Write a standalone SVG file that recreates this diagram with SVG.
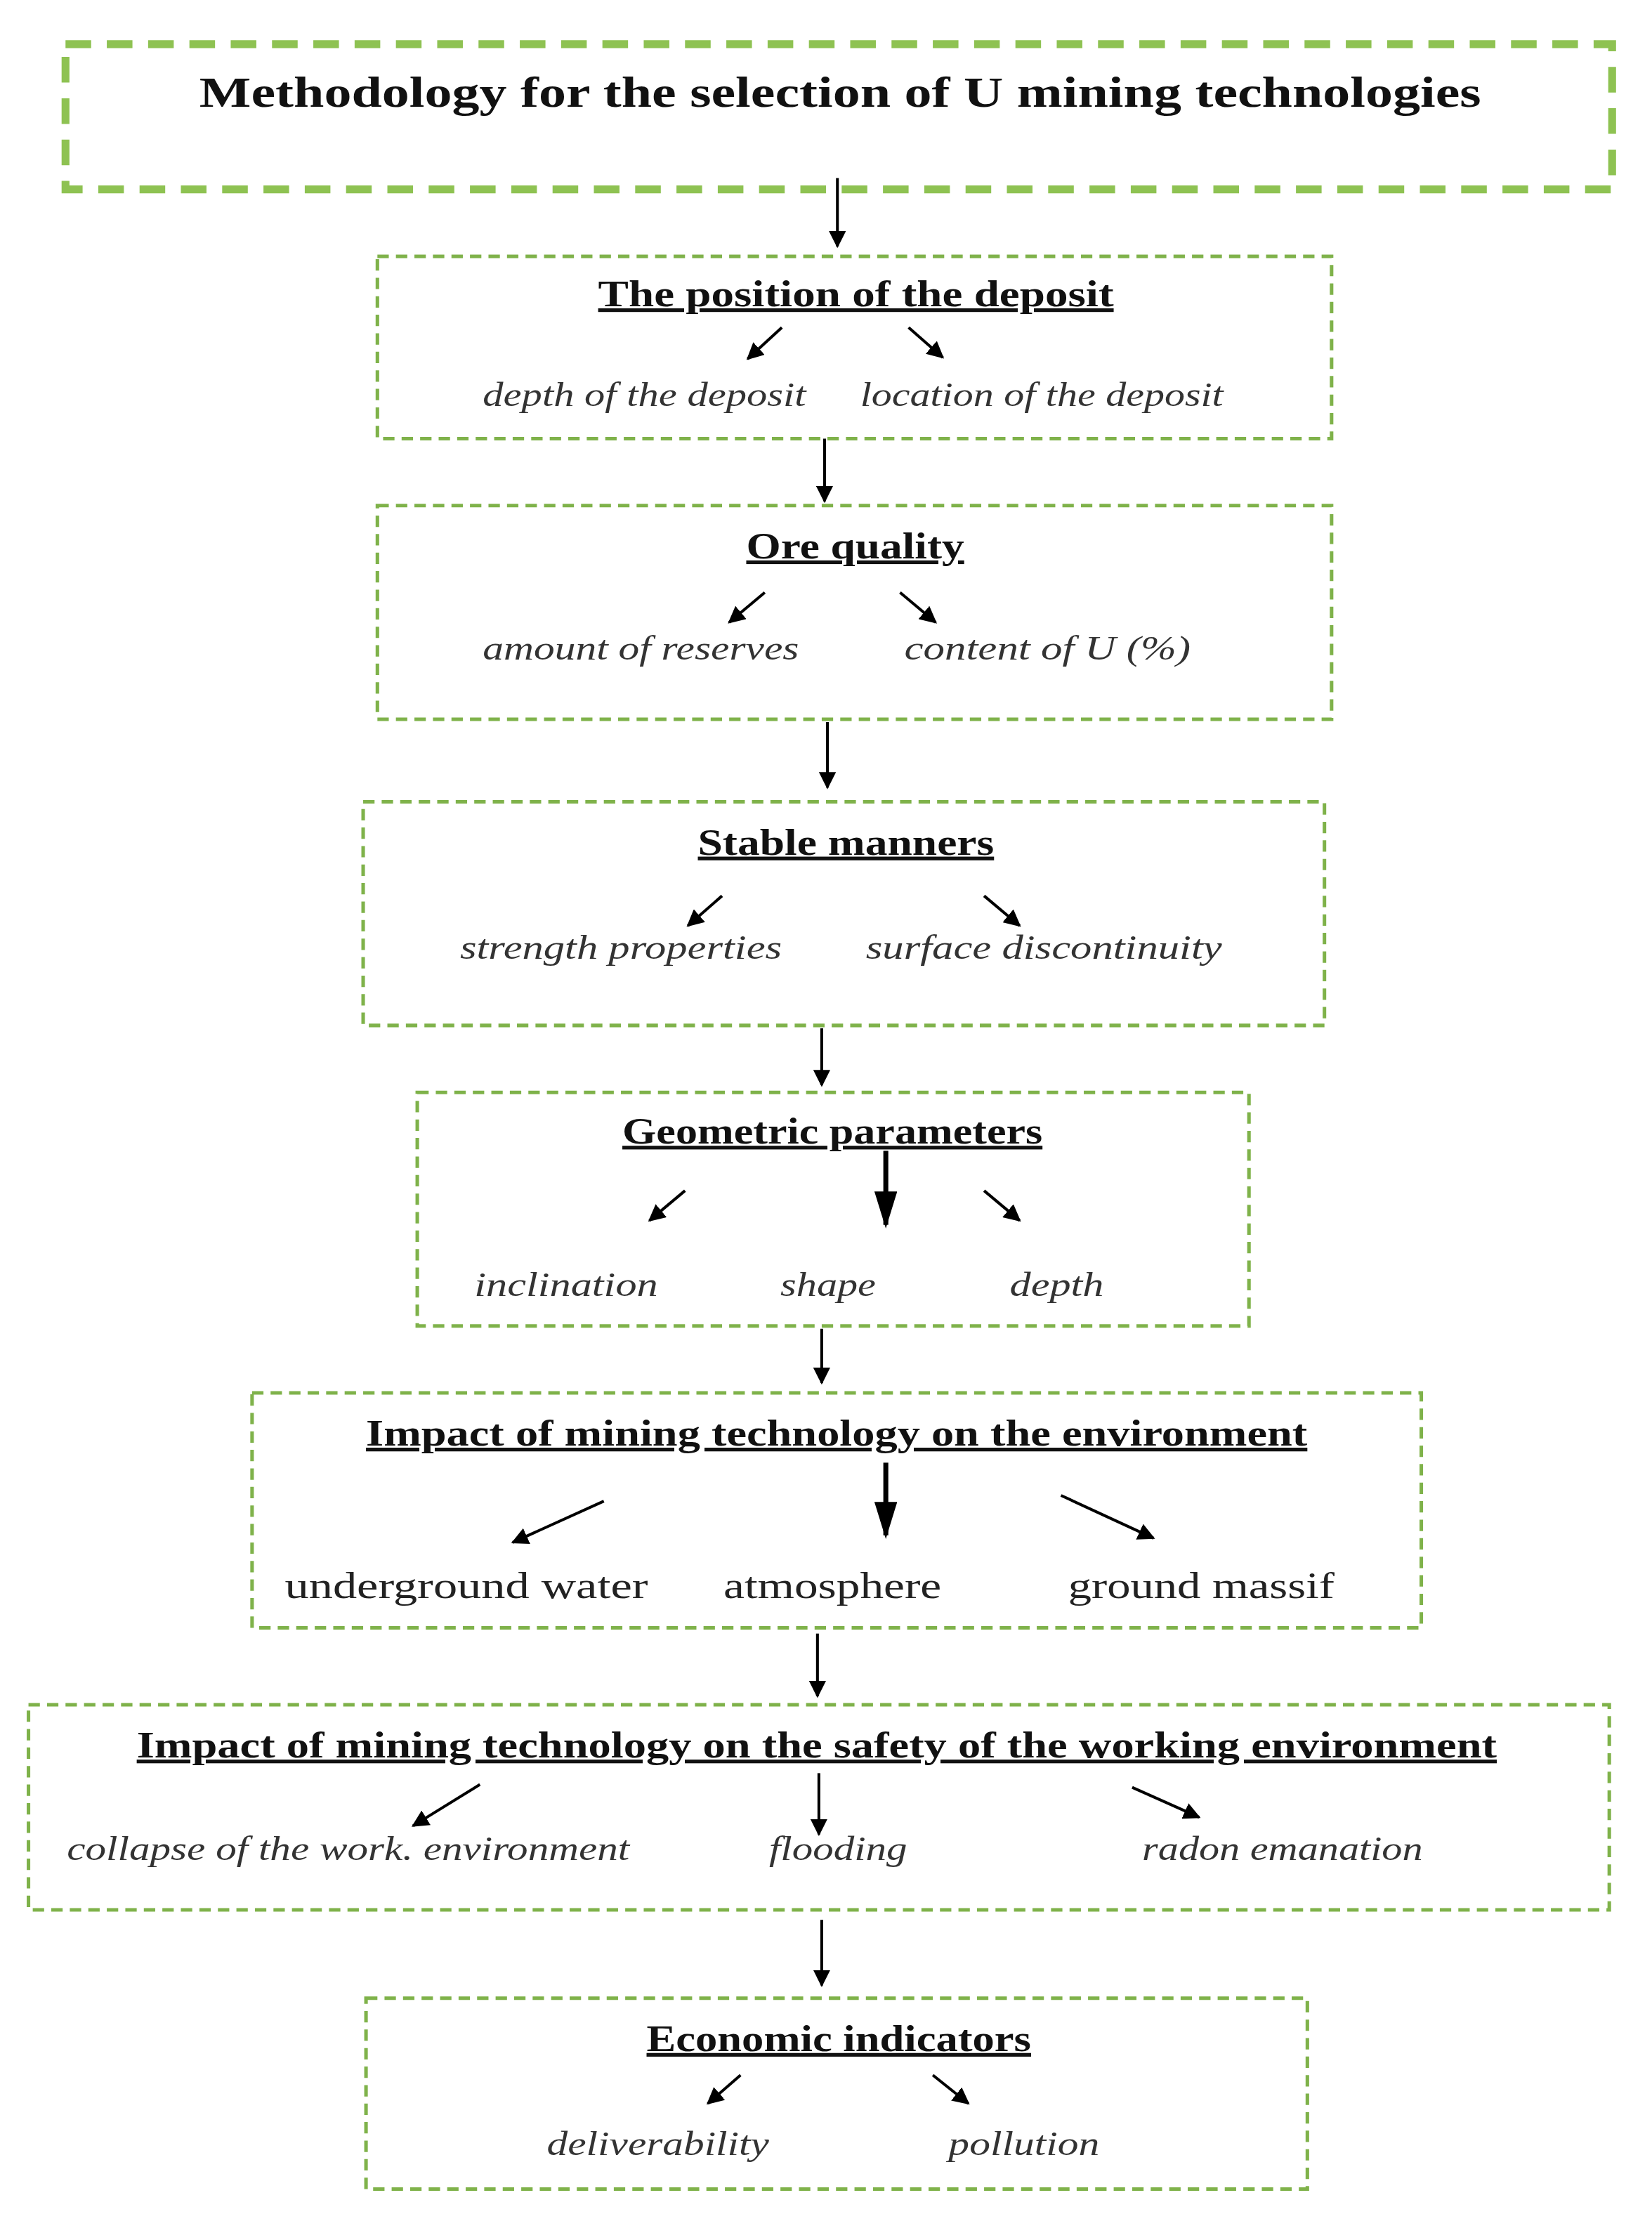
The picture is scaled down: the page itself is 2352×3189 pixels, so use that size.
<svg xmlns="http://www.w3.org/2000/svg" width="2352" height="3189" viewBox="0 0 2352 3189">
<style>
.box{fill:none;stroke:#7fb24a;stroke-width:2.5;stroke-dasharray:8 5}
.big{fill:none;stroke:#8ec252;stroke-width:5.5;stroke-dasharray:18 11}
.h{font-family:"Liberation Serif",serif;font-weight:bold;font-size:26px;fill:#111;text-decoration:underline}
.i{font-family:"Liberation Serif",serif;font-style:italic;font-size:24px;fill:#333}
.u{font-family:"Liberation Serif",serif;font-size:26px;fill:#222}
.c{stroke:#000;stroke-width:2;fill:none}
.t{stroke:#000;stroke-width:3.5;fill:none}
</style>
<defs>
<marker id="a" viewBox="0 0 10 10" refX="9" refY="5" markerWidth="6" markerHeight="6" orient="auto" markerUnits="userSpaceOnUse"><path d="M0,0L10,5L0,10z" fill="#000"/></marker>
<marker id="b" viewBox="0 0 10 10" refX="9" refY="5" markerWidth="12" markerHeight="12" orient="auto" markerUnits="userSpaceOnUse"><path d="M0,0L10,5L0,10z" fill="#000"/></marker>
<marker id="m" viewBox="0 0 10 10" refX="9" refY="5" markerWidth="26" markerHeight="16" orient="auto" markerUnits="userSpaceOnUse" preserveAspectRatio="none"><path d="M0,0L10,5L0,10z" fill="#000"/></marker>
</defs>
<rect width="2352" height="3189" fill="#fff"/>
<g transform="scale(2.0276)">
<g id="title"><rect class="big" x="46" y="31" width="1086" height="102"/>
<text x="140" y="75" textLength="900" lengthAdjust="spacingAndGlyphs" style="font-family:'Liberation Serif',serif;font-weight:bold;font-size:30px;fill:#111">Methodology for the selection of U mining technologies</text></g>
<g id="position"><rect class="box" x="265" y="180" width="670" height="128"/>
<text class="h" x="420" y="215" textLength="362" lengthAdjust="spacingAndGlyphs">The position of the deposit</text>
<line class="c" x1="549" y1="230" x2="525" y2="252" marker-end="url(#b)"/><line class="c" x1="638" y1="230" x2="662" y2="251" marker-end="url(#b)"/>
<text class="i" x="339" y="285" textLength="227" lengthAdjust="spacingAndGlyphs">depth of the deposit</text>
<text class="i" x="604" y="285" textLength="255" lengthAdjust="spacingAndGlyphs">location of the deposit</text></g>
<g id="ore"><rect class="box" x="265" y="355" width="670" height="150"/>
<text class="h" x="524" y="392" textLength="153" lengthAdjust="spacingAndGlyphs">Ore quality</text>
<line class="c" x1="537" y1="416" x2="512" y2="437" marker-end="url(#b)"/><line class="c" x1="632" y1="416" x2="657" y2="437" marker-end="url(#b)"/>
<text class="i" x="339" y="463" textLength="222" lengthAdjust="spacingAndGlyphs">amount of reserves</text>
<text class="i" x="635" y="463" textLength="201" lengthAdjust="spacingAndGlyphs">content of U (%)</text></g>
<g id="stable"><rect class="box" x="255" y="563" width="675" height="157"/>
<text class="h" x="490" y="600" textLength="208" lengthAdjust="spacingAndGlyphs">Stable manners</text>
<line class="c" x1="507" y1="629" x2="483" y2="650" marker-end="url(#b)"/><line class="c" x1="691" y1="629" x2="716" y2="650" marker-end="url(#b)"/>
<text class="i" x="323" y="673" textLength="226" lengthAdjust="spacingAndGlyphs">strength properties</text>
<text class="i" x="608" y="673" textLength="250" lengthAdjust="spacingAndGlyphs">surface discontinuity</text></g>
<g id="geometric"><rect class="box" x="293" y="767" width="584" height="164"/>
<text class="h" x="437" y="803" textLength="295" lengthAdjust="spacingAndGlyphs">Geometric parameters</text>
<line class="c" x1="481" y1="836" x2="456" y2="857" marker-end="url(#b)"/>
<line class="t" x1="622" y1="808" x2="622" y2="860" marker-end="url(#m)"/>
<line class="c" x1="691" y1="836" x2="716" y2="857" marker-end="url(#b)"/>
<text class="i" x="333" y="910" textLength="129" lengthAdjust="spacingAndGlyphs">inclination</text>
<text class="i" x="548" y="910" textLength="67" lengthAdjust="spacingAndGlyphs">shape</text>
<text class="i" x="709" y="910" textLength="66" lengthAdjust="spacingAndGlyphs">depth</text></g>
<g id="environment"><rect class="box" x="177" y="978" width="821" height="165"/>
<text class="h" x="257" y="1015" textLength="661" lengthAdjust="spacingAndGlyphs">Impact of mining technology on the environment</text>
<line class="c" x1="424" y1="1054" x2="360" y2="1083" marker-end="url(#b)"/>
<line class="t" x1="622" y1="1027" x2="622" y2="1078" marker-end="url(#m)"/>
<line class="c" x1="745" y1="1050" x2="810" y2="1080" marker-end="url(#b)"/>
<text class="u" x="200" y="1122" textLength="255" lengthAdjust="spacingAndGlyphs">underground water</text>
<text class="u" x="508" y="1122" textLength="153" lengthAdjust="spacingAndGlyphs">atmosphere</text>
<text class="u" x="750" y="1122" textLength="187" lengthAdjust="spacingAndGlyphs">ground massif</text></g>
<g id="safety"><rect class="box" x="20" y="1197" width="1110" height="144"/>
<text class="h" x="96" y="1234" textLength="955" lengthAdjust="spacingAndGlyphs">Impact of mining technology on the safety of the working environment</text>
<line class="c" x1="337" y1="1253" x2="290" y2="1282" marker-end="url(#b)"/>
<line class="c" x1="575" y1="1245" x2="575" y2="1288" marker-end="url(#b)"/>
<line class="c" x1="795" y1="1255" x2="842" y2="1276" marker-end="url(#b)"/>
<text class="i" x="47" y="1306" textLength="395" lengthAdjust="spacingAndGlyphs">collapse of the work. environment</text>
<text class="i" x="540" y="1306" textLength="97" lengthAdjust="spacingAndGlyphs">flooding</text>
<text class="i" x="802" y="1306" textLength="197" lengthAdjust="spacingAndGlyphs">radon emanation</text></g>
<g id="economic"><rect class="box" x="257" y="1403" width="661" height="134"/>
<text class="h" x="454" y="1440" textLength="270" lengthAdjust="spacingAndGlyphs">Economic indicators</text>
<line class="c" x1="520" y1="1457" x2="497" y2="1477" marker-end="url(#b)"/>
<line class="c" x1="655" y1="1457" x2="680" y2="1477" marker-end="url(#b)"/>
<text class="i" x="384" y="1513" textLength="156" lengthAdjust="spacingAndGlyphs">deliverability</text>
<text class="i" x="666" y="1513" textLength="106" lengthAdjust="spacingAndGlyphs">pollution</text></g>
<g id="connectors">
<line class="c" x1="588" y1="125" x2="588" y2="173" marker-end="url(#b)"/>
<line class="c" x1="579" y1="308" x2="579" y2="352" marker-end="url(#b)"/>
<line class="c" x1="581" y1="507" x2="581" y2="553" marker-end="url(#b)"/>
<line class="c" x1="577" y1="722" x2="577" y2="762" marker-end="url(#b)"/>
<line class="c" x1="577" y1="933" x2="577" y2="971" marker-end="url(#b)"/>
<line class="c" x1="574" y1="1147" x2="574" y2="1191" marker-end="url(#b)"/>
<line class="c" x1="577" y1="1348" x2="577" y2="1394" marker-end="url(#b)"/>
</g>
</g>
</svg>
